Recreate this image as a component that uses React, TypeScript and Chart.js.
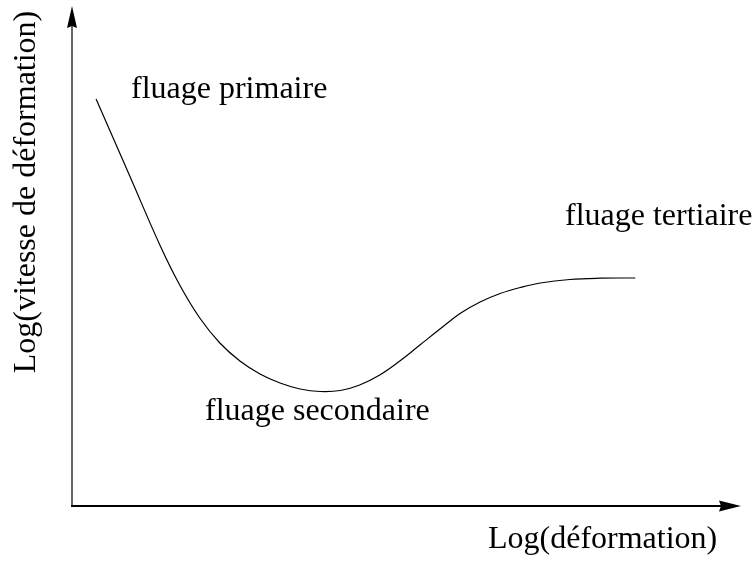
import React, { useEffect, useRef } from "react";
import { Chart, registerables } from "chart.js";

Chart.register(...registerables);

// Log(déformation) positions (arbitrary log units)
const strainLog = [0.36, 0.87, 1.32, 1.61, 1.91, 2.21, 2.51, 2.81, 3.11, 3.41, 3.71, 4.01, 4.3, 4.6, 4.9, 5.2, 5.5, 5.8, 6.1, 6.4, 6.7, 7.0, 7.44, 7.89, 8.42];
// Log(vitesse de déformation) values
const rateLog = [8.14, 6.58, 5.2, 4.42, 3.76, 3.26, 2.9, 2.64, 2.46, 2.34, 2.29, 2.31, 2.42, 2.62, 2.9, 3.22, 3.54, 3.85, 4.08, 4.25, 4.37, 4.46, 4.53, 4.556, 4.56];

const xTitle = "Log(déformation)";
const yTitle = "Log(vitesse de déformation)";
const stageLabels = ["fluage primaire", "fluage secondaire", "fluage tertiaire"];

const FONT = '32px "Liberation Serif", "Times New Roman", serif';

const axesPlugin = {
  id: "arrowAxes",
  afterDraw(chart: any) {
    const ctx = chart.ctx;
    const a = chart.chartArea;
    ctx.save();
    // y axis (gray)
    ctx.strokeStyle = "#666666";
    ctx.lineWidth = 2;
    ctx.beginPath();
    ctx.moveTo(a.left, a.bottom + 1);
    ctx.lineTo(a.left, a.top + 20);
    ctx.stroke();
    ctx.fillStyle = "#000000";
    ctx.beginPath();
    ctx.moveTo(a.left, a.top);
    ctx.lineTo(a.left - 5, a.top + 22);
    ctx.lineTo(a.left, a.top + 20);
    ctx.lineTo(a.left + 5, a.top + 22);
    ctx.closePath();
    ctx.fill();
    // x axis (black)
    ctx.strokeStyle = "#000000";
    ctx.lineWidth = 2;
    ctx.beginPath();
    ctx.moveTo(a.left - 1, a.bottom);
    ctx.lineTo(a.right - 20, a.bottom);
    ctx.stroke();
    ctx.beginPath();
    ctx.moveTo(a.right, a.bottom);
    ctx.lineTo(a.right - 22, a.bottom - 5.5);
    ctx.lineTo(a.right - 20, a.bottom);
    ctx.lineTo(a.right - 22, a.bottom + 5.5);
    ctx.closePath();
    ctx.fill();

    // texts
    ctx.font = FONT;
    ctx.fillStyle = "#000000";
    ctx.textBaseline = "alphabetic";
    ctx.textAlign = "left";
    ctx.fillText(stageLabels[0], 131, 98);
    ctx.fillText(stageLabels[1], 205, 420);
    ctx.fillText(stageLabels[2], 565, 225);
    ctx.fillText(xTitle, 488, 548);
    ctx.save();
    ctx.translate(35, 192);
    ctx.rotate(-Math.PI / 2);
    ctx.textAlign = "center";
    ctx.fillText(yTitle, 0, 0);
    ctx.restore();
    ctx.restore();
  },
};

export default function App() {
  const ref = useRef<HTMLCanvasElement | null>(null);
  useEffect(() => {
    if (!ref.current) return;
    const chart = new Chart(ref.current, {
      type: "line",
      data: {
        datasets: [
          {
            data: strainLog.map((x, i) => ({ x, y: rateLog[i] })),
            borderColor: "#000000",
            borderWidth: 1.2,
            pointRadius: 0,
            tension: 0.4,
            fill: false,
          },
        ],
      },
      options: {
        responsive: false,
        animation: false,
        layout: { padding: { left: 72, top: 6, right: 12, bottom: 58 } },
        plugins: { legend: { display: false }, tooltip: { enabled: false } },
        scales: {
          x: { type: "linear", min: 0, max: 10, display: false },
          y: { type: "linear", min: 0, max: 10, display: false },
        },
      },
      plugins: [axesPlugin],
    } as any);
    return () => chart.destroy();
  }, []);
  return (
    <div style={{ position: "absolute", left: 0, top: 0, width: 753, height: 564, background: "#fff" }}>
      <canvas ref={ref} width={753} height={564} style={{ display: "block" }} />
    </div>
  );
}
